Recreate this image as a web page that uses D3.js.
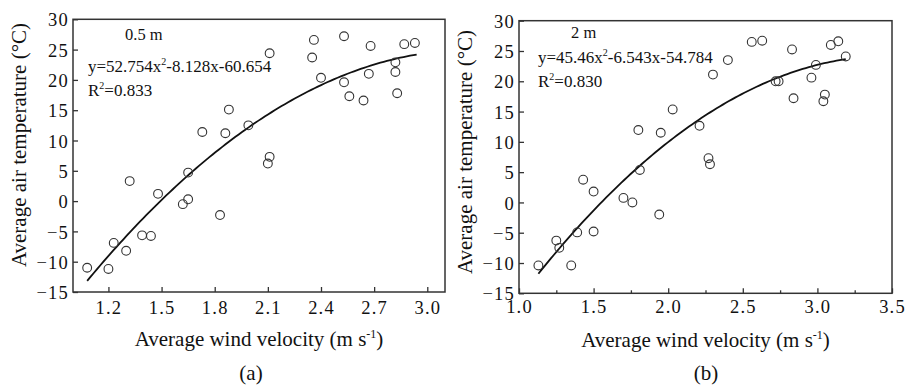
<!DOCTYPE html>
<html>
<head>
<meta charset="utf-8">
<script src="https://cdn.jsdelivr.net/npm/d3@7"></script>
<style>
  body { margin: 0; background: #fff; }
  svg text { font-family: "Liberation Serif", "Times New Roman", serif; fill: #111; }
  .tick text { font-size: 18.5px; letter-spacing: 1.2px; }
</style>
</head>
<body>
<svg id="chart" width="907" height="387"></svg>
<script>
// panel (a): 0.5 m
var windA = [1.08, 1.20, 1.23, 1.30, 1.39, 1.44, 1.48, 1.32, 1.62, 1.65, 1.65, 1.73, 1.83, 1.86, 1.88, 1.99, 2.10,
  2.11, 2.11, 2.35, 2.36, 2.40, 2.53, 2.53, 2.56, 2.64, 2.67, 2.68, 2.82, 2.82, 2.83, 2.87, 2.93];
var tempA = [-11.0, -11.2, -6.9, -8.2, -5.65, -5.75, 1.2, 3.3, -0.5, 0.3, 4.7, 11.4, -2.3, 11.2, 15.1, 12.5, 6.2,
  7.3, 24.4, 23.7, 26.6, 20.35, 27.2, 19.6, 17.3, 16.6, 21.0, 25.6, 22.9, 21.3, 17.8, 25.9, 26.1];
// fit y = c0 + c1*x + c2*x^2 and the x range it is drawn over
var fitA = [-60.654, 52.754, -8.128];
var fitRangeA = [1.08, 2.94];
var xTicksA = [1.2, 1.5, 1.8, 2.1, 2.4, 2.7, 3.0];

// panel (b): 2 m
var windB = [1.13, 1.25, 1.27, 1.35, 1.39, 1.50, 1.50, 1.43, 1.70, 1.76, 1.94, 1.80, 1.81, 1.95, 2.03, 2.21, 2.27,
  2.28, 2.30, 2.40, 2.56, 2.63, 2.72, 2.74, 2.83, 2.84, 2.96, 2.99, 3.04, 3.05, 3.09, 3.14, 3.19];
var tempB = [-10.4, -6.3, -7.5, -10.4, -4.95, -4.8, 1.8, 3.75, 0.75, 0.0, -2.0, 11.95, 5.35, 11.5, 15.35, 12.65, 7.3,
  6.3, 21.1, 23.5, 26.5, 26.7, 20.0, 20.0, 25.25, 17.2, 20.6, 22.7, 16.7, 17.8, 26.0, 26.6, 24.1];
var fitB = [-54.784, 45.46, -6.543];
var fitRangeB = [1.13, 3.19];
var xTicksB = [1.0, 1.5, 2.0, 2.5, 3.0, 3.5];
var xMinorB = [1.25, 1.75, 2.25, 2.75, 3.25];

var yTicks = [-15, -10, -5, 0, 5, 10, 15, 20, 25, 30];

var FONT = "Liberation Serif, Times New Roman, serif";
var svg = d3.select("#chart");

function drawPanel(p) {
  var x = d3.scaleLinear().domain(p.xDomain).range([p.left, p.right]);
  var y = d3.scaleLinear().domain([-15, 30]).range([p.bottom, p.top]);
  var g = svg.append("g").attr("font-family", FONT);

  // frame
  g.append("rect")
    .attr("x", p.left).attr("y", p.top)
    .attr("width", p.right - p.left).attr("height", p.bottom - p.top)
    .attr("fill", "none").attr("stroke", "#333").attr("stroke-width", 1.5);

  // axes, ticks point inward
  var xAxis = g.append("g").attr("transform", "translate(0," + p.bottom + ")")
    .call(d3.axisBottom(x).tickValues(p.xTicks).tickFormat(d3.format(".1f")).tickSizeInner(-5).tickSizeOuter(0).tickPadding(p.xPad));
  if (p.xMinor) {
    g.append("g").attr("transform", "translate(0," + p.bottom + ")")
      .call(d3.axisBottom(x).tickValues(p.xMinor).tickFormat("").tickSizeInner(-3).tickSizeOuter(0));
  }
  var yAxis = g.append("g").attr("transform", "translate(" + p.left + ",0)")
    .call(d3.axisLeft(y).tickValues(yTicks).tickSizeInner(-5).tickSizeOuter(0).tickPadding(4));
  g.selectAll(".domain").remove();
  g.selectAll(".tick line").attr("stroke", "#333").attr("stroke-width", 1.3);
  g.selectAll(".tick text").attr("font-family", FONT);
  xAxis.attr("font-family", FONT);
  yAxis.attr("font-family", FONT);
  yAxis.selectAll(".tick text").attr("dy", "0.36em");

  // fitted curve
  var curvePts = d3.range(0, 101).map(function(i) {
    var xv = p.fitRange[0] + (p.fitRange[1] - p.fitRange[0]) * i / 100;
    return [xv, p.fit[0] + p.fit[1] * xv + p.fit[2] * xv * xv];
  });
  g.append("path")
    .datum(curvePts)
    .attr("fill", "none").attr("stroke", "#111").attr("stroke-width", 1.8)
    .attr("d", d3.line().x(function(d) { return x(d[0]); }).y(function(d) { return y(d[1]); }));

  // observations
  g.selectAll("circle.obs")
    .data(p.wind)
    .enter().append("circle")
    .attr("class", "obs")
    .attr("cx", function(d) { return x(d); })
    .attr("cy", function(d, i) { return y(p.temp[i]); })
    .attr("r", 4.4)
    .attr("fill", "none").attr("stroke", "#333").attr("stroke-width", 1.1);

  // annotations
  g.append("text").attr("x", p.heightX).attr("y", p.heightY)
    .attr("font-size", 16.5).text(p.height);
  var eq = g.append("text").attr("x", p.eqX).attr("y", p.eqY).attr("font-size", 17);
  eq.append("tspan").text(p.eq[0]);
  eq.append("tspan").attr("font-size", 10).attr("dy", -7).text("2");
  eq.append("tspan").attr("dy", 7).text(p.eq[1]);
  var r2 = g.append("text").attr("x", p.eqX).attr("y", p.eqY + 24).attr("font-size", 17);
  r2.append("tspan").text("R");
  r2.append("tspan").attr("font-size", 10).attr("dy", -7).text("2");
  r2.append("tspan").attr("dy", 7).text("=" + p.r2);

  // axis titles
  var xt = g.append("text").attr("x", (p.left + p.right) / 2).attr("y", p.bottom + 54)
    .attr("text-anchor", "middle").attr("font-size", 21);
  xt.append("tspan").text("Average wind velocity (m s");
  xt.append("tspan").attr("font-size", 12).attr("dy", -8).text("-1");
  xt.append("tspan").attr("dy", 8).text(")");

  g.append("text")
    .attr("transform", "translate(" + p.yTitleX + "," + p.yTitleY + ") rotate(-90)")
    .attr("text-anchor", "middle").attr("font-size", 21)
    .text("Average air temperature (\u00B0C)");

  g.append("text").attr("x", p.labelX).attr("y", 380)
    .attr("text-anchor", "middle").attr("font-size", 21).text(p.label);
}

drawPanel({
  left: 73, right: 445, top: 19.3, bottom: 292, xDomain: [1.0, 3.1], xTicks: xTicksA, xPad: 9,
  wind: windA, temp: tempA, fit: fitA, fitRange: fitRangeA,
  height: "0.5 m", heightX: 125, heightY: 40,
  eq: ["y=52.754x", "-8.128x-60.654"], r2: "0.833", eqX: 88, eqY: 71.5,
  yTitleX: 26, yTitleY: 145, labelX: 251, label: "(a)"
});

drawPanel({
  left: 519, right: 892, top: 20.7, bottom: 293.3, xDomain: [1.0, 3.5], xTicks: xTicksB, xMinor: xMinorB, xPad: 7,
  wind: windB, temp: tempB, fit: fitB, fitRange: fitRangeB,
  height: "2 m", heightX: 571, heightY: 38,
  eq: ["y=45.46x", "-6.543x-54.784"], r2: "0.830", eqX: 538, eqY: 63,
  yTitleX: 472, yTitleY: 152, labelX: 706, label: "(b)"
});
</script>
</body>
</html>
